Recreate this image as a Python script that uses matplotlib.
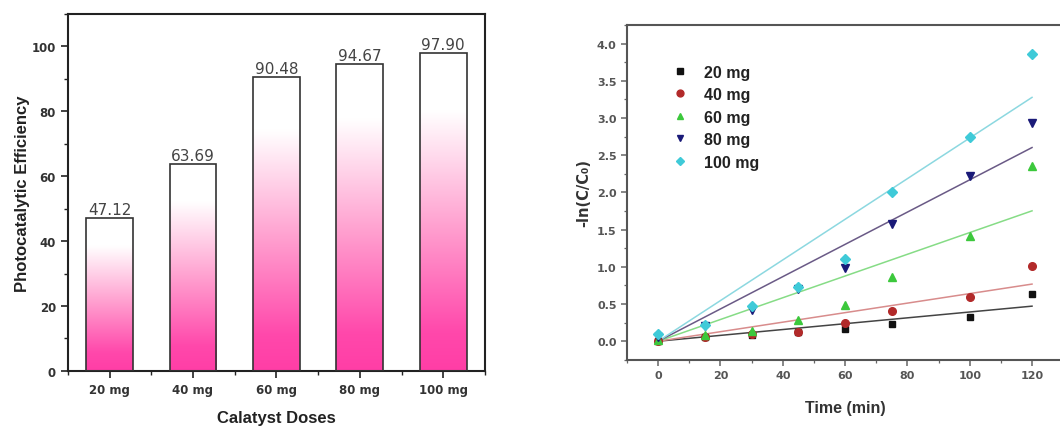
import numpy as np
import matplotlib
matplotlib.use("Agg")
import matplotlib.pyplot as plt
from matplotlib.colors import LinearSegmentedColormap
from matplotlib.ticker import MultipleLocator

# Photocatalytic efficiency by catalyst dose
doses = ["20 mg", "40 mg", "60 mg", "80 mg", "100 mg"]
efficiency = [47.12, 63.69, 90.48, 94.67, 97.90]

# Pseudo-first-order kinetics: -ln(C/C0) vs time
time_min = [0, 15, 30, 45, 60, 75, 100, 120]
k_20mg = [0.00, 0.05, 0.08, 0.13, 0.16, 0.23, 0.33, 0.63]
k_40mg = [0.00, 0.05, 0.10, 0.12, 0.25, 0.40, 0.60, 1.01]
k_60mg = [0.02, 0.08, 0.14, 0.28, 0.49, 0.86, 1.42, 2.36]
k_80mg = [0.05, 0.20, 0.42, 0.70, 0.99, 1.57, 2.22, 2.93]
k_100mg = [0.10, 0.22, 0.48, 0.73, 1.10, 2.01, 2.74, 3.86]

TICK_FONT = "DejaVu Sans"
LABEL_FONT = "Liberation Sans"

fig = plt.figure(figsize=(10.60, 4.27), dpi=100)

# ---------------- left: bar chart with pink gradient ----------------
ax1 = fig.add_axes([0.064, 0.129, 0.3935, 0.836])
x = np.arange(len(doses))
width = 0.56
pink = LinearSegmentedColormap.from_list(
    "pinkfade", [(0.0, "#ff3ea6"), (0.12, "#ff48ab"), (0.45, "#ff9fcf"),
                 (0.82, "#ffffff"), (1.0, "#ffffff")])
grad = np.linspace(0, 1, 256).reshape(-1, 1)

bars = ax1.bar(x, efficiency, width, facecolor="none", edgecolor="#333333",
               linewidth=1.2, zorder=3)
for rect, val in zip(bars, efficiency):
    x0 = rect.get_x()
    ax1.imshow(grad, cmap=pink, origin="lower", aspect="auto",
               extent=(x0, x0 + rect.get_width(), 0, rect.get_height()), zorder=2)
    ax1.text(rect.get_x() + rect.get_width() / 2, val + 0.3, f"{val:.2f}",
             ha="center", va="bottom", fontsize=11, color="#444444",
             family=TICK_FONT)

ax1.set_xlim(-0.5, 4.5)
ax1.set_ylim(0, 110)
ax1.set_xticks(x)
ax1.set_xticklabels(doses)
ax1.xaxis.set_minor_locator(MultipleLocator(0.5))
ax1.set_yticks(np.arange(0, 101, 20))
ax1.yaxis.set_minor_locator(MultipleLocator(10))
for lab in ax1.get_xticklabels() + ax1.get_yticklabels():
    lab.set_fontfamily(TICK_FONT)
    lab.set_fontweight("bold")
    lab.set_fontsize(8.5)
    lab.set_color("#333333")
ax1.tick_params(which="major", direction="out", length=5, width=1.2, color="#222222")
ax1.tick_params(which="minor", direction="out", length=3, width=1.0, color="#222222")
for s in ax1.spines.values():
    s.set_linewidth(1.5)
    s.set_color("#222222")
ax1.set_xlabel("Calatyst Doses", fontsize=12, fontweight="bold",
               family=LABEL_FONT, color="#222222", labelpad=10)
ax1.set_ylabel("Photocatalytic Efficiency", fontsize=12, fontweight="bold",
               family=LABEL_FONT, color="#222222", labelpad=1)

# ---------------- right: kinetics plot ----------------
ax2 = fig.add_axes([0.5915, 0.155, 0.4115, 0.784])
series = [
    ("20 mg", k_20mg, "s", "#111111", "#444444", 5.0),
    ("40 mg", k_40mg, "o", "#b22a2a", "#d88c8c", 5.5),
    ("60 mg", k_60mg, "^", "#3cc83c", "#86dc86", 5.5),
    ("80 mg", k_80mg, "v", "#1a1a78", "#6a5a86", 5.5),
    ("100 mg", k_100mg, "D", "#3fcad8", "#8cd8e0", 4.8),
]
t = np.asarray(time_min, dtype=float)
t_line = np.linspace(0, 120, 50)
for label, vals, mk, mcol, lcol, ms in series:
    y = np.asarray(vals, dtype=float)
    slope = np.sum(t * y) / np.sum(t * t)   # first-order fit through origin
    ax2.plot(t_line, slope * t_line, color=lcol, linewidth=1.1, zorder=2)
    ax2.plot(t, y, linestyle="none", marker=mk, markersize=ms,
             color=mcol, markeredgecolor=mcol, label=label, zorder=3)

ax2.set_xlim(-10, 130)
ax2.set_ylim(-0.25, 4.25)
ax2.set_xticks(np.arange(0, 121, 20))
ax2.xaxis.set_minor_locator(MultipleLocator(10))
ax2.set_yticks(np.arange(0, 4.01, 0.5))
ax2.set_yticklabels([f"{v:.1f}" for v in np.arange(0, 4.01, 0.5)])
ax2.yaxis.set_minor_locator(MultipleLocator(0.25))
for lab in ax2.get_xticklabels() + ax2.get_yticklabels():
    lab.set_fontfamily(TICK_FONT)
    lab.set_fontweight("bold")
    lab.set_fontsize(8)
    lab.set_color("#555555")
ax2.tick_params(which="major", direction="out", length=4, width=1.1, color="#666666")
ax2.tick_params(which="minor", direction="out", length=2.5, width=0.9, color="#666666")
for s in ax2.spines.values():
    s.set_linewidth(1.5)
    s.set_color("#555555")
ax2.set_xlabel("Time (min)", fontsize=11.5, fontweight="bold", family=LABEL_FONT,
               color="#333333", labelpad=14)
ax2.set_ylabel("-ln(C/C\u2080)", fontsize=10.5, fontweight="bold", family=TICK_FONT,
               color="#333333", labelpad=4)
leg = ax2.legend(loc="upper left", bbox_to_anchor=(0.07, 0.925), frameon=False,
                 handletextpad=1.0, labelspacing=0.47, handlelength=1.0,
                 markerscale=0.9,
                 prop={"family": LABEL_FONT, "weight": "bold", "size": 11.5})
for txt in leg.get_texts():
    txt.set_color("#222222")

fig.savefig("out.png", dpi=100, facecolor="white")
